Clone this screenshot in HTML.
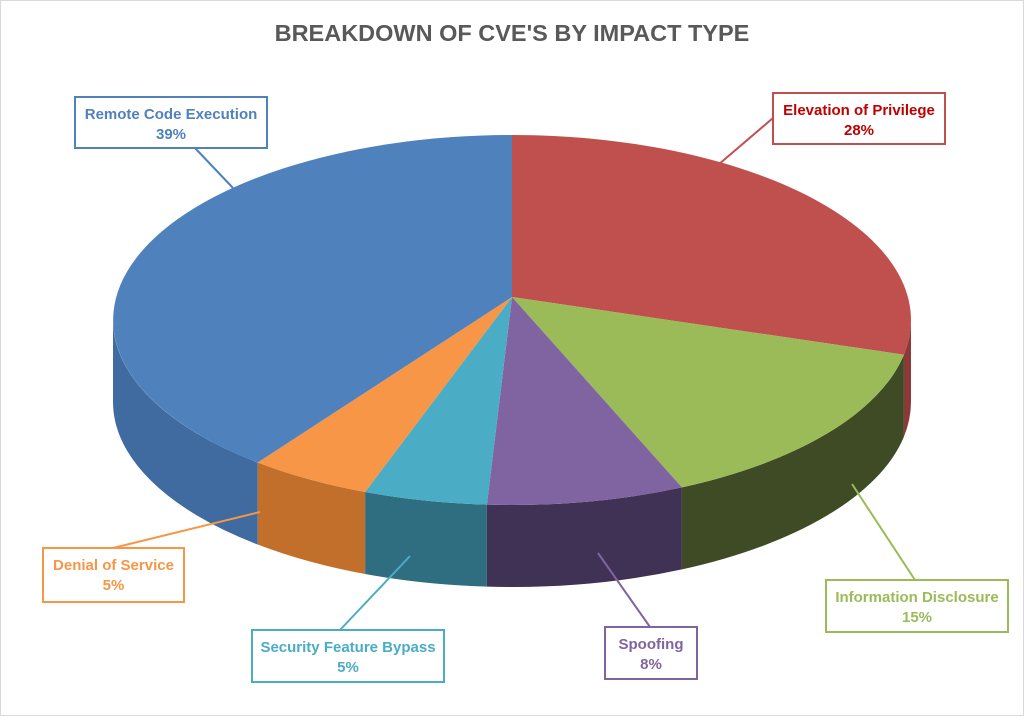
<!DOCTYPE html>
<html><head><meta charset="utf-8"><style>
body{margin:0;background:#fff;}
#wrap{position:relative;width:1024px;height:716px;font-family:"Liberation Sans",sans-serif;}
</style></head><body>
<div id="wrap">
<svg id="svg" width="1024" height="716" xmlns="http://www.w3.org/2000/svg">
<rect x="0.5" y="0.5" width="1023" height="715" fill="#fff" stroke="#d9d9d9"/>
<text x="512" y="41" text-anchor="middle" font-size="23.5" font-weight="bold" fill="#595959" font-family="Liberation Sans, sans-serif">BREAKDOWN OF CVE'S BY IMPACT TYPE</text>
<g id="sides"></g><g id="tops"></g><g id="labels"></g>
</svg>
</div>
<script>
const categories=["Elevation of Privilege","Information Disclosure","Spoofing","Security Feature Bypass","Denial of Service","Remote Code Execution"];
const values=[28,15,8,5,5,39];
const pctLabels=["28%","15%","8%","5%","5%","39%"];
const topColors=["#c0504d","#9bbb59","#8064a2","#4bacc6","#f79646","#4f81bd"];
const sideColors=["#8c3a38","#3e4b24","#3f3254","#2f6e80","#c36f2c","#3f6ba0"];
const textColors=["#c00000","#9bbb59","#8064a2","#4bacc6","#f79646","#4f81bd"];
const boxes=[[773,93,172,51,773,118,718,165],[826,580,182,52,915,580,852,484],[605,627,92,52,650,627,598,553],[252,630,192,52,340,630,410,556],[43,548,141,54,113,548,260,512],[75,97,192,51,195,148,233,188]];
const NS="http://www.w3.org/2000/svg";
const cx=512,cy=320,rx=399,ry=185,depth=82,apexY=297;
function P(a,d){const r=a*Math.PI/180;return [cx+rx*Math.sin(r),cy-ry*Math.cos(r)+d];}
function f(p){return p[0].toFixed(1)+","+p[1].toFixed(1);}
const total=values.reduce((s,v)=>s+v,0);
const sides=document.getElementById('sides'),tops=document.getElementById('tops'),labels=document.getElementById('labels');
let acc=0;
values.forEach((v,i)=>{
  const a1=acc/total*360,a2=(acc+v)/total*360;acc+=v;
  const s1=Math.max(a1,90),s2=Math.min(a2,270);
  if(s2>s1){
    const p=document.createElementNS(NS,'path');
    const lg=(s2-s1)>180?1:0;
    p.setAttribute('d',`M${f(P(s1,0))} A${rx},${ry} 0 ${lg} 1 ${f(P(s2,0))} L${f(P(s2,depth))} A${rx},${ry} 0 ${lg} 0 ${f(P(s1,depth))} Z`);
    p.setAttribute('fill',sideColors[i]);
    
    
    sides.appendChild(p);
  }
  const t=document.createElementNS(NS,'path');
  const lg=(a2-a1)>180?1:0;
  t.setAttribute('d',`M${cx},${apexY} L${f(P(a1,0))} A${rx},${ry} 0 ${lg} 1 ${f(P(a2,0))} Z`);
  t.setAttribute('fill',topColors[i]);
  
  
  tops.appendChild(t);
  const b=boxes[i];
  const ln=document.createElementNS(NS,'line');
  ln.setAttribute('x1',b[4]);ln.setAttribute('y1',b[5]);ln.setAttribute('x2',b[6]);ln.setAttribute('y2',b[7]);
  ln.setAttribute('stroke',topColors[i]);ln.setAttribute('stroke-width','2');
  
  
  labels.appendChild(ln);
  const r=document.createElementNS(NS,'rect');
  r.setAttribute('x',b[0]);r.setAttribute('y',b[1]);r.setAttribute('width',b[2]);r.setAttribute('height',b[3]);
  r.setAttribute('fill','#fff');r.setAttribute('stroke',topColors[i]);r.setAttribute('stroke-width','2');
  
  
  labels.appendChild(r);
  [categories[i],pctLabels[i]].forEach((s,k)=>{
    const tx=document.createElementNS(NS,'text');
    tx.setAttribute('x',b[0]+b[2]/2);tx.setAttribute('y',b[1]+22+k*20);
    tx.setAttribute('text-anchor','middle');tx.setAttribute('font-size','15');tx.setAttribute('font-weight','bold');
    tx.setAttribute('fill',textColors[i]);tx.setAttribute('font-family','Liberation Sans, sans-serif');
    
    
    tx.textContent=s;labels.appendChild(tx);
  });
});
</script>
</body></html>
